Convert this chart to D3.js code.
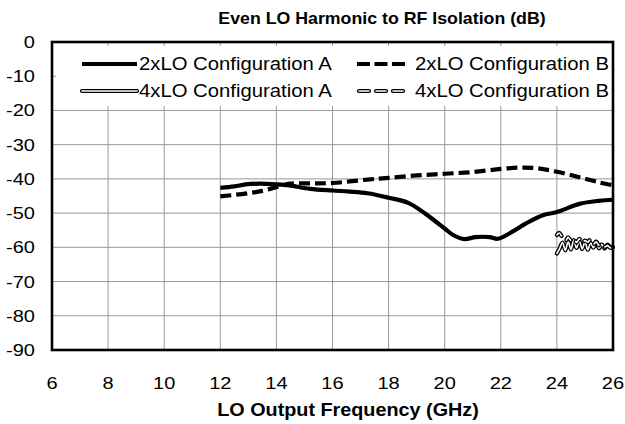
<!DOCTYPE html>
<html><head><meta charset="utf-8">
<script src="https://cdn.jsdelivr.net/npm/d3@7"></script>
<style>body{margin:0;background:#fff}svg{display:block;font-family:"Liberation Sans",Arial,Helvetica,sans-serif}</style>
</head><body><svg id="c" width="625" height="424"></svg>
<script>
const title = "Even LO Harmonic to RF Isolation (dB)";
const xLabel = "LO Output Frequency (GHz)";
const xTicks = [6,8,10,12,14,16,18,20,22,24,26];
const yTicks = [0,-10,-20,-30,-40,-50,-60,-70,-80,-90];
const seriesNames = ["2xLO Configuration A","2xLO Configuration B","4xLO Configuration A","4xLO Configuration B"];

const lo2A_x = [12,12.5,12.9,13.4,14,14.45,15.2,16,16.6,17.25,18,18.7,19.3,19.7,20,20.3,20.7,21.1,21.6,21.9,22.4,22.9,23.5,24,24.8,25.5,26];
const lo2A_y = [-42.6,-42.2,-41.6,-41.4,-41.6,-41.9,-42.9,-43.4,-43.7,-44.2,-45.5,-47,-50.1,-52.6,-54.5,-56.4,-57.6,-57,-57,-57.5,-55.5,-53,-50.6,-49.7,-47.3,-46.4,-46.1];

const lo2B_x = [12,12.9,13.5,14,14.5,15.2,16,17.25,18,19,20,21,22,22.7,23.3,24,24.8,25.5,26];
const lo2B_y = [-45.1,-44.3,-43.5,-42.4,-41.4,-41.3,-41.2,-40.2,-39.7,-39,-38.5,-38,-37.1,-36.7,-36.9,-37.9,-39.5,-41,-41.9];

const lo4A_x = [24,24.1,24.2,24.3,24.4,24.5,24.6,24.7,24.8,24.9,25,25.1,25.2,25.3,25.4,25.5,25.6,25.7,25.8,25.9,26];
const lo4A_y = [-61.8,-60.3,-58.6,-60.9,-58.3,-60.6,-57.9,-60.2,-58.1,-60.5,-58.4,-60.7,-58.7,-60.1,-58.3,-60.3,-59.1,-60.4,-59.2,-59.8,-60];

const lo4B_x = [24,24.08,24.16,24.3,24.4,24.5,24.6,24.7,24.8,24.9,25,25.1,25.2,25.3,25.4,25.5,25.6,25.7,25.8,25.9,26];
const lo4B_y = [-56.4,-55.8,-56.6,-58.2,-57.1,-58,-57.3,-58.6,-57.5,-58.9,-58,-58.5,-57.7,-59.1,-58.4,-59.4,-58.9,-59.9,-59.5,-60.1,-60.4];

const svg = d3.select("#c");
const L=52, R=613, T=42, B=350;
const x = d3.scaleLinear().domain([6,26]).range([L,R]);
const y = d3.scaleLinear().domain([-90,0]).range([B,T]);

function txt(px,py,anchor,size,sx,weight,str){
  return svg.append("text").attr("transform",`translate(${px},${py}) scale(${sx},1)`)
    .attr("text-anchor",anchor).attr("font-size",size).attr("font-weight",weight).attr("fill","#000").text(str);
}

// gridlines
const g = svg.append("g");
g.selectAll(".vx").data(xTicks.slice(1,-1)).enter().append("line")
  .attr("x1",d=>x(d)).attr("x2",d=>x(d)).attr("y1",T).attr("y2",B)
  .attr("stroke","#999").attr("stroke-width",1);
g.selectAll(".hy").data(yTicks.slice(1,-1)).enter().append("line")
  .attr("x1",L).attr("x2",R).attr("y1",d=>y(d)).attr("y2",d=>y(d))
  .attr("stroke","#999").attr("stroke-width",1);

// legend background
svg.append("rect").attr("x",56).attr("y",46).attr("width",R-56).attr("height",60).attr("fill","#fff");

const line = d3.line().x(d=>x(d[0])).y(d=>y(d[1])).curve(d3.curveCatmullRom.alpha(0.5));
const zip=(a,b)=>a.map((v,i)=>[v,b[i]]);

const pA = svg.append("g");
pA.append("path").datum(zip(lo2A_x,lo2A_y)).attr("d",line).attr("fill","none").attr("stroke","#000").attr("stroke-width",4.2);
pA.append("path").datum(zip(lo2B_x,lo2B_y)).attr("d",line).attr("fill","none").attr("stroke","#000").attr("stroke-width",4.2).attr("stroke-dasharray","11,5");
const d4A = zip(lo4A_x,lo4A_y), d4B = zip(lo4B_x,lo4B_y);
pA.append("path").datum(d4A).attr("d",line).attr("fill","none").attr("stroke","#000").attr("stroke-width",4.2).attr("stroke-linecap","round");
pA.append("path").datum(d4A).attr("d",line).attr("fill","none").attr("stroke","#fff").attr("stroke-width",1.6).attr("stroke-linecap","round");
pA.append("path").datum(d4B).attr("d",line).attr("fill","none").attr("stroke","#000").attr("stroke-width",4.2).attr("stroke-dasharray","7,8").attr("stroke-linecap","round");
pA.append("path").datum(d4B).attr("d",line).attr("fill","none").attr("stroke","#fff").attr("stroke-width",1.6).attr("stroke-dasharray","7,8").attr("stroke-linecap","round");

// frame
svg.append("rect").attr("x",L).attr("y",T).attr("width",R-L).attr("height",B-T).attr("fill","none").attr("stroke","#000").attr("stroke-width",2.6);

// tick labels
yTicks.forEach(d=>txt(35,y(d)+6,"end",16,1.25,"normal",d));
xTicks.forEach(d=>txt(x(d),389,"middle",16,1.25,"normal",d));
txt(382,24,"middle",16,1.11,"bold",title);
txt(348,416,"middle",18,1.1,"bold",xLabel);

// legend
const leg = [
 {n:seriesNames[0],x:82,w:55,tx:139,y:64,dash:null,dbl:false},
 {n:seriesNames[1],x:357,w:48,tx:415,y:64,dash:"13,4.5",dbl:false},
 {n:seriesNames[2],x:82,w:55,tx:139,y:91,dash:null,dbl:true},
 {n:seriesNames[3],x:359,w:44,tx:415,y:91,dash:"10,7",dbl:true}];
leg.forEach(l=>{
  const ln = svg.append("line").attr("x1",l.x).attr("x2",l.x+l.w).attr("y1",l.y).attr("y2",l.y)
    .attr("stroke","#000").attr("stroke-width",4.2);
  if(l.dash) ln.attr("stroke-dasharray",l.dash);
  if(l.dbl){
    ln.attr("stroke-linecap","round");
    const w = svg.append("line").attr("x1",l.x).attr("x2",l.x+l.w).attr("y1",l.y).attr("y2",l.y)
      .attr("stroke","#fff").attr("stroke-width",1.6).attr("stroke-linecap","round");
    if(l.dash) w.attr("stroke-dasharray",l.dash);
  }
  txt(l.tx,l.y+6,"start",17.5,1.16,"normal",l.n);
});
</script></body></html>
